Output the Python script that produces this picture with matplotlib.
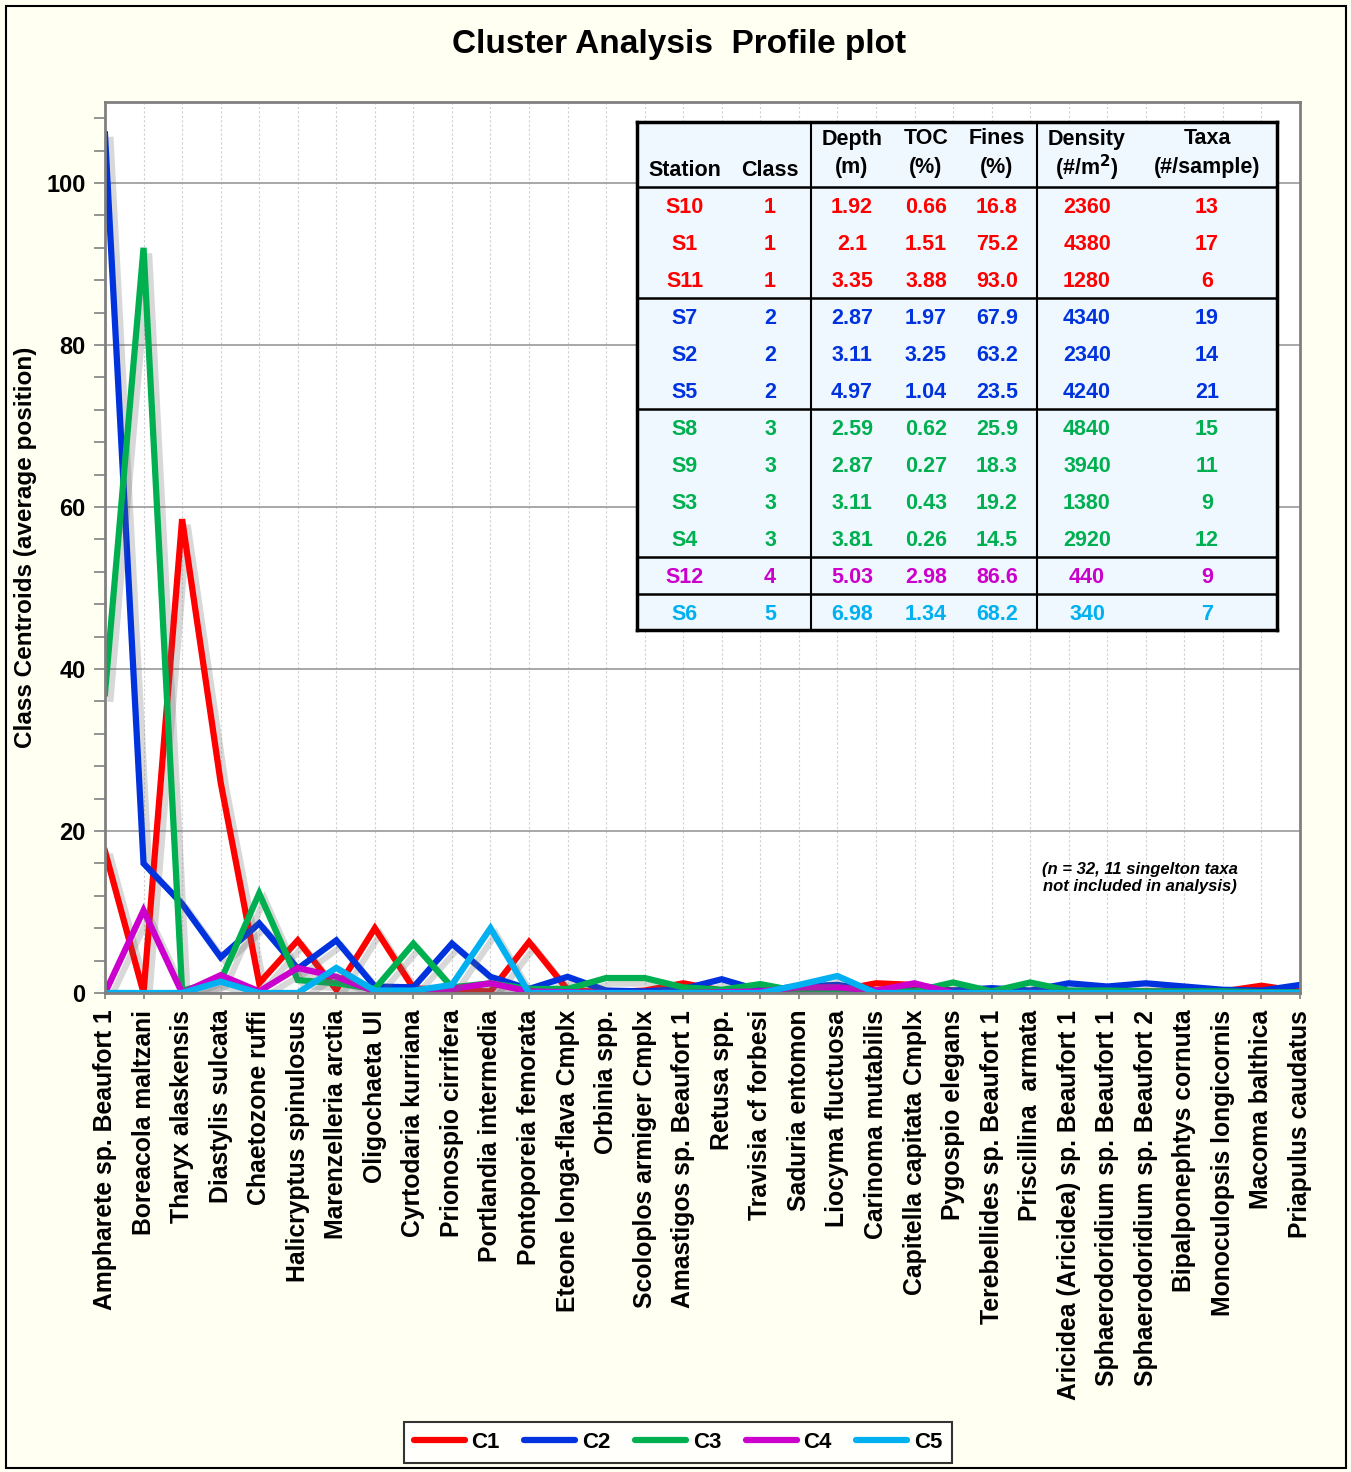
import numpy as np
import matplotlib
matplotlib.use("Agg")
from matplotlib import pyplot as plt
from matplotlib import patheffects as pe
from matplotlib.patches import Rectangle

TAXA = [
    "Ampharete sp. Beaufort 1", "Boreacola maltzani", "Tharyx alaskensis",
    "Diastylis sulcata", "Chaetozone ruffi", "Halicryptus spinulosus",
    "Marenzelleria arctia", "Oligochaeta Ul", "Cyrtodaria kurriana",
    "Prionospio cirrifera", "Portlandia intermedia", "Pontoporeia femorata",
    "Eteone longa-flava Cmplx", "Orbinia spp.", "Scoloplos armiger Cmplx",
    "Amastigos sp. Beaufort 1", "Retusa spp.", "Travisia cf forbesi",
    "Saduria entomon", "Liocyma fluctuosa", "Carinoma mutabilis",
    "Capitella capitata Cmplx", "Pygospio elegans", "Terebellides sp. Beaufort 1",
    "Priscillina  armata", "Aricidea (Aricidea) sp. Beaufort 1",
    "Sphaerodoridium sp. Beaufort 1", "Sphaerodoridium sp. Beaufort 2",
    "Bipalponephtys cornuta", "Monoculopsis longicornis", "Macoma balthica",
    "Priapulus caudatus",
]

C1 = [17.5, 0, 58.5, 26, 1.2, 6.5, 0.4, 8.0, 0.6, 0.3, 0.2, 6.3, 0.4, 0.1, 0.3, 1.2,
      0.3, 0.3, 0.4, 0.3, 1.2, 1.0, 0.3, 0.2, 0.2, 0.2, 0.2, 0.2, 0.2, 0.2, 0.9, 0.2]
C2 = [106, 16, 11, 4.4, 8.6, 3.0, 6.5, 0.8, 0.7, 6.1, 2.0, 0.5, 2.0, 0.3, 0.2, 0.5,
      1.7, 0.3, 0.8, 1.0, 0.3, 0.3, 0.3, 0.6, 0.3, 1.2, 0.8, 1.2, 0.8, 0.4, 0.3, 1.0]
C3 = [37, 92, 0.3, 1.5, 12.3, 1.6, 1.2, 0.5, 6.1, 0.7, 1.2, 0.5, 0.5, 1.85, 1.85, 0.7,
      0.4, 1.1, 0.2, 0.2, 0.2, 0.2, 1.3, 0.2, 1.3, 0.3, 0.3, 0.2, 0.2, 0.2, 0.1, 0.1]
C4 = [0, 10.2, 0, 2.2, 0.2, 3.1, 2.0, 0.2, 0.2, 0.5, 1.2, 0.2, 0.1, 0, 0, 0,
      0.1, 0.2, 0.7, 0.7, 0.3, 1.2, 0, 0, 0, 0, 0, 0, 0, 0, 0, 0]
C5 = [0, 0, 0, 1.4, 0, 0, 3.1, 0.3, 0.3, 1.0, 8.0, 0, 0, 0, 0, 0,
      0, 0, 1.0, 2.1, 0, 0, 0, 0, 0, 0, 0, 0, 0, 0, 0, 0]

SERIES = ["C1", "C2", "C3", "C4", "C5"]
COLORS = ["#FF0000", "#0033DD", "#00B050", "#CC00CC", "#00B0F0"]

# station summary table
STATIONS = ["S10", "S1", "S11", "S7", "S2", "S5", "S8", "S9", "S3", "S4", "S12", "S6"]
CLASSES = [1, 1, 1, 2, 2, 2, 3, 3, 3, 3, 4, 5]
DEPTH = ["1.92", "2.1", "3.35", "2.87", "3.11", "4.97", "2.59", "2.87", "3.11", "3.81", "5.03", "6.98"]
TOC = ["0.66", "1.51", "3.88", "1.97", "3.25", "1.04", "0.62", "0.27", "0.43", "0.26", "2.98", "1.34"]
FINES = ["16.8", "75.2", "93.0", "67.9", "63.2", "23.5", "25.9", "18.3", "19.2", "14.5", "86.6", "68.2"]
DENSITY = ["2360", "4380", "1280", "4340", "2340", "4240", "4840", "3940", "1380", "2920", "440", "340"]
NTAXA = ["13", "17", "6", "19", "14", "21", "15", "11", "9", "12", "9", "7"]

W, H = 1351, 1472
plt.rcParams["font.family"] = ["Liberation Sans", "DejaVu Sans"]
plt.rcParams["font.weight"] = "bold"

fig = plt.figure(figsize=(W / 100, H / 100), dpi=100, facecolor="#FFFFF2")
fig.patches.append(Rectangle((6 / W, 4 / H), 1340 / W, 1462 / H, transform=fig.transFigure,
                             fill=False, edgecolor="black", linewidth=1.5))

ax = fig.add_axes([105 / W, 1 - 993 / H, 1195 / W, 891 / H])
ax.set_facecolor("white")
x = np.arange(len(TAXA))
for name, vals, col in zip(SERIES, [C1, C2, C3, C4, C5], COLORS):
    ax.plot(x, vals, color=col, linewidth=4.5, label=name, solid_joinstyle="miter",
            path_effects=[pe.SimpleLineShadow(offset=(4, -4), shadow_color="#666666", alpha=0.25),
                          pe.Normal()])

ax.set_xlim(0, len(TAXA) - 1)
ax.set_ylim(0, 110)
ax.set_yticks(np.arange(0, 101, 20))
ax.set_yticks(np.arange(0, 110, 4), minor=True)
ax.set_xticks(x)
ax.set_xticklabels(TAXA, rotation=90, fontsize=17.8, fontweight="bold")
ax.tick_params(axis="y", which="both", direction="out", length=8, width=1.2,
               color="#808080", labelsize=17, pad=6)
ax.tick_params(axis="x", direction="out", length=4, width=1.2, color="#808080", pad=8)
for lbl in ax.get_yticklabels():
    lbl.set_fontweight("bold")
ax.grid(axis="y", which="major", color="#A0A0A0", linewidth=1.3)
ax.grid(axis="x", color="#D0D0D0", linewidth=0.8, linestyle=(0, (2, 2)))
ax.set_axisbelow(True)
for sp in ax.spines.values():
    sp.set_color("#808080")
    sp.set_linewidth(2)

ax.set_ylabel("Class Centroids (average position)", fontsize=17.5, fontweight="bold")
ax.yaxis.set_label_coords(-0.057, 0.5)

fig.text(679 / W, 1 - 45 / H, "Cluster Analysis  Profile plot", ha="center", va="center",
         fontsize=24, fontweight="bold")

ax.text(0.866, 0.129, "(n = 32, 11 singelton taxa\nnot included in analysis)",
        transform=ax.transAxes, ha="center", va="center", fontsize=12,
        fontweight="bold", fontstyle="italic", linespacing=1.1)

# table drawn in its own axes, coordinates in pixels from the box top-left
tb = fig.add_axes([637 / W, 1 - 630 / H, 640 / W, 508 / H], zorder=5)
tb.set_xlim(0, 640)
tb.set_ylim(508, 0)
tb.set_facecolor("#F0F8FF")
tb.set_xticks([])
tb.set_yticks([])
for sp in tb.spines.values():
    sp.set_color("black")
    sp.set_linewidth(2.5)

col_x = [48, 133, 215, 289, 360, 450, 570]
head_top = ["", "", "Depth", "TOC", "Fines", "Density", "Taxa"]
head_bot = ["Station", "Class", "(m)", "(%)", "(%)", "(#/m$^\\mathbf{2}$)", "(#/sample)"]
for cx, t1, t2 in zip(col_x, head_top, head_bot):
    if t1:
        tb.text(cx, 17, t1, ha="center", va="center", fontsize=15.5, fontweight="bold")
    tb.text(cx, 46 if t1 else 48, t2, ha="center", va="center", fontsize=15.5, fontweight="bold")

head_h, row_h = 65, 37
tb.axhline(head_h, color="black", linewidth=1.8)
for v in [174, 400]:
    tb.axvline(v, color="black", linewidth=1.5)
for n in [3, 6, 10, 11]:
    tb.axhline(head_h + row_h * n, color="black", linewidth=1.8)

for i, row in enumerate(zip(STATIONS, CLASSES, DEPTH, TOC, FINES, DENSITY, NTAXA)):
    cy = head_h + row_h * i + row_h / 2 + 2
    col = COLORS[CLASSES[i] - 1]
    for cx, val in zip(col_x, row):
        tb.text(cx, cy, str(val), ha="center", va="center", color=col,
                fontsize=15.5, fontweight="bold")

leg = fig.legend(loc="center", bbox_to_anchor=(678 / W, 1 - 1442 / H), ncol=5,
                 fontsize=16, frameon=True, fancybox=False, edgecolor="black",
                 handlelength=2.3, handletextpad=0.3, columnspacing=1.1,
                 borderpad=0.45)
leg.get_frame().set_linewidth(1.5)
leg.get_frame().set_facecolor("white")
for t in leg.get_texts():
    t.set_fontweight("bold")
for h in leg.get_lines():
    h.set_path_effects([])
    h.set_linewidth(4.5)
    h.set_solid_capstyle("round")

fig.savefig("out.png", dpi=100, facecolor=fig.get_facecolor())
